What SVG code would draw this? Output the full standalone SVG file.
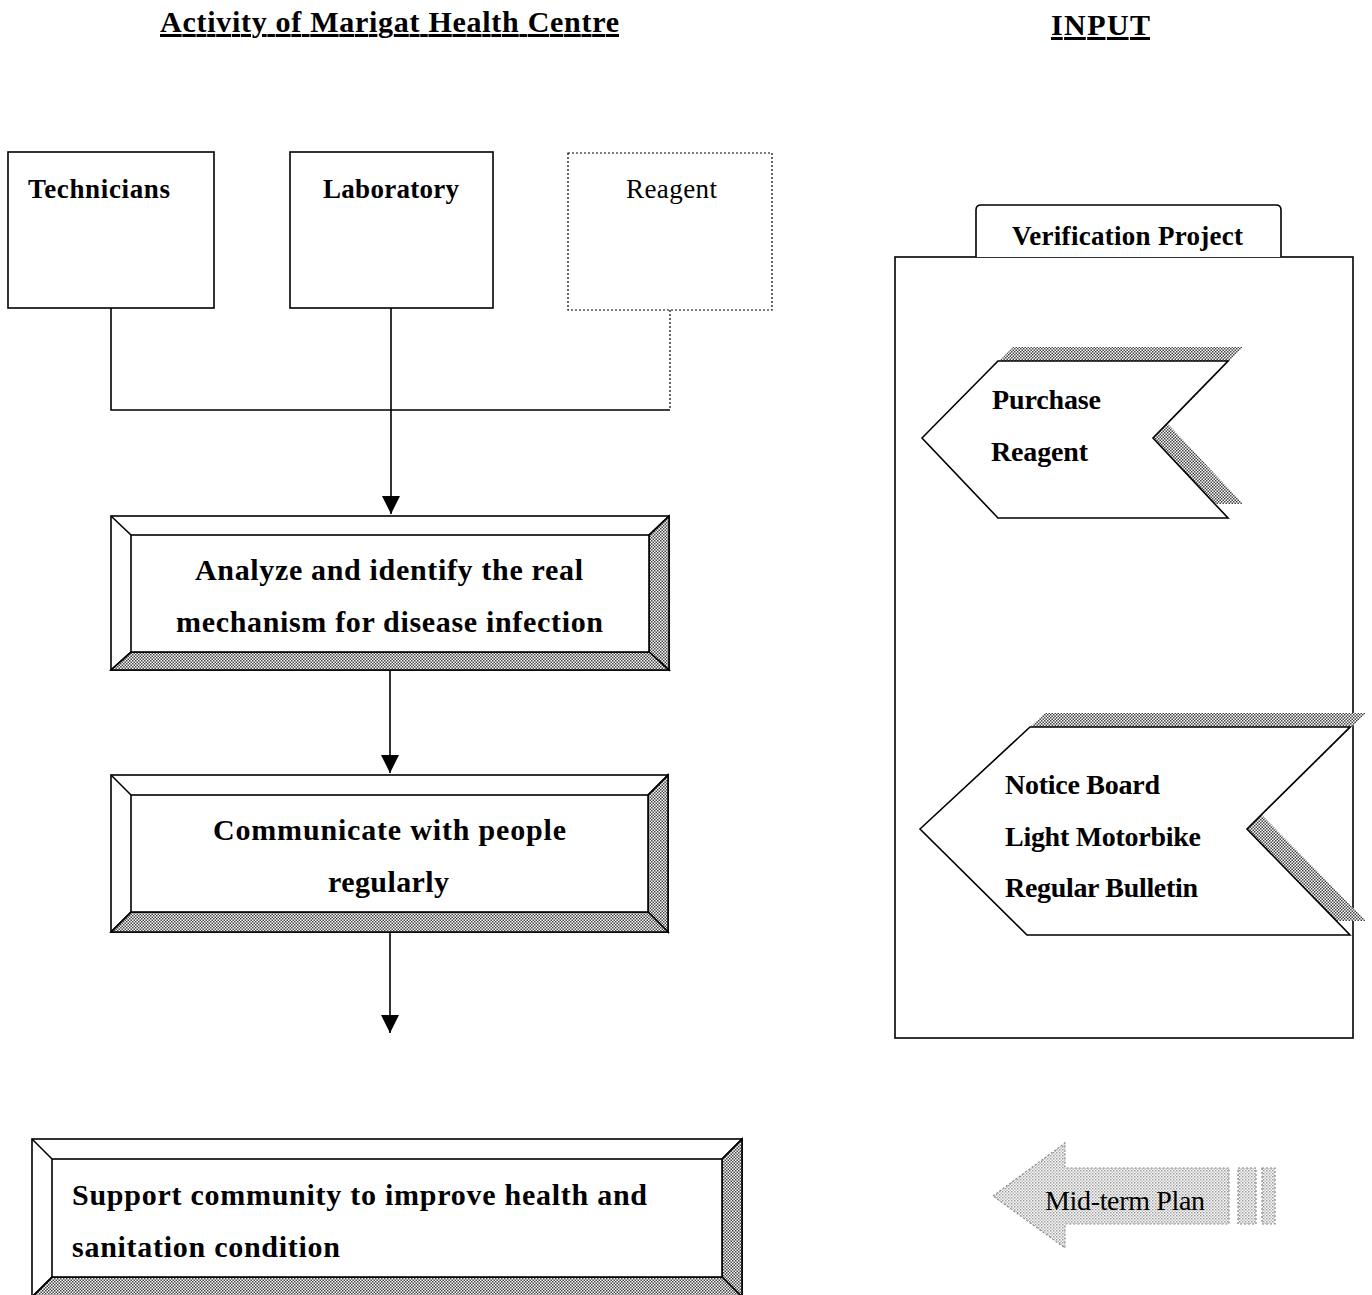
<svg xmlns="http://www.w3.org/2000/svg" width="1372" height="1295" viewBox="0 0 1372 1295">
<style>
text{font-family:"Liberation Serif","Times New Roman",serif;fill:#000}
.b{font-weight:bold}
.t{font-size:30px;font-weight:bold;text-decoration:underline}
.lbl{font-size:27px}
.big{font-size:30px;font-weight:bold}
.mid{font-size:28px;font-weight:bold}
.ln{fill:none;stroke:#000;stroke-width:1.6}
.box{fill:#fff;stroke:#000;stroke-width:1.6}
.dot{fill:#fff;stroke:#000;stroke-width:1.2;stroke-dasharray:2 2}
.hat{fill:url(#hatch);stroke:#000;stroke-width:1.6}
.sh{fill:url(#hatch);stroke:none}
.lt{fill:url(#light);stroke:#888;stroke-width:1.2;stroke-dasharray:2 2}
</style>
<defs>
<pattern id="hatch" width="3" height="3" patternUnits="userSpaceOnUse">
<rect width="3" height="3" fill="#fff"/>
<rect x="0" y="0" width="1.5" height="1.5" fill="#444"/>
<rect x="1.5" y="1.5" width="1.5" height="1.5" fill="#444"/>
</pattern>
<pattern id="light" width="3" height="3" patternUnits="userSpaceOnUse">
<rect width="3" height="3" fill="#fff"/>
<rect x="0" y="0" width="1.5" height="1.5" fill="#999"/>
<rect x="1.5" y="1.5" width="1.5" height="1.5" fill="#bbb"/>
</pattern>
<marker id="arr" markerWidth="20" markerHeight="20" refX="18" refY="9" orient="auto" markerUnits="userSpaceOnUse">
<path d="M0,0 L18,9 L0,18 Z" fill="#000"/>
</marker>
</defs>
<rect width="1372" height="1295" fill="#fff"/>

<text class="t" x="160" y="32" textLength="459">Activity of Marigat Health Centre</text>
<text class="t" x="1051" y="35" textLength="99">INPUT</text>

<g id="connectors">
<polyline class="ln" points="111,308 111,410 670,410"/>
<line x1="670" y1="310" x2="670" y2="410" stroke="#000" stroke-width="1.2" stroke-dasharray="2 2"/>
<line class="ln" x1="391" y1="308" x2="391" y2="514" marker-end="url(#arr)"/>
<line class="ln" x1="390" y1="670" x2="390" y2="773" marker-end="url(#arr)"/>
<line class="ln" x1="390" y1="932" x2="390" y2="1033" marker-end="url(#arr)"/>
</g>

<g id="technicians">
<rect class="box" x="8" y="152" width="206" height="156"/>
<text class="lbl b" x="28" y="198" textLength="142">Technicians</text>
</g>
<g id="laboratory">
<rect class="box" x="290" y="152" width="203" height="156"/>
<text class="lbl b" x="323" y="198" textLength="136">Laboratory</text>
</g>
<g id="reagent">
<rect class="dot" x="568" y="153" width="204" height="157"/>
<text class="lbl" x="626" y="198" textLength="91">Reagent</text>
</g>

<g id="analyze">
<rect class="box" x="111" y="516" width="558" height="154"/>
<polygon class="hat" points="669,516 669,670 649,652 649,535"/>
<polygon class="hat" points="111,670 669,670 649,652 131,652"/>
<line class="ln" x1="111" y1="516" x2="131" y2="535"/>
<line class="ln" x1="669" y1="516" x2="649" y2="535"/>
<line class="ln" x1="111" y1="670" x2="131" y2="652"/>
<rect class="box" x="131" y="535" width="518" height="117"/>
<text class="big" x="195" y="580" textLength="388">Analyze and identify the real</text>
<text class="big" x="176" y="632" textLength="427">mechanism for disease infection</text>
</g>

<g id="communicate">
<rect class="box" x="111" y="775" width="557" height="157"/>
<polygon class="hat" points="668,775 668,932 648,912 648,795"/>
<polygon class="hat" points="111,932 668,932 648,912 131,912"/>
<line class="ln" x1="111" y1="775" x2="131" y2="795"/>
<line class="ln" x1="668" y1="775" x2="648" y2="795"/>
<line class="ln" x1="111" y1="932" x2="131" y2="912"/>
<rect class="box" x="131" y="795" width="517" height="117"/>
<text class="big" x="213" y="840" textLength="353">Communicate with people</text>
<text class="big" x="328" y="892" textLength="121">regularly</text>
</g>

<g id="support">
<rect class="box" x="32" y="1139" width="710" height="158"/>
<polygon class="hat" points="742,1139 742,1297 722,1277 722,1159"/>
<polygon class="hat" points="32,1297 742,1297 722,1277 52,1277"/>
<line class="ln" x1="32" y1="1139" x2="52" y2="1159"/>
<line class="ln" x1="742" y1="1139" x2="722" y2="1159"/>
<line class="ln" x1="32" y1="1297" x2="52" y2="1277"/>
<rect class="box" x="52" y="1159" width="670" height="118"/>
<text class="big" x="72" y="1205" textLength="575">Support community to improve health and</text>
<text class="big" x="72" y="1257" textLength="268">sanitation condition</text>
</g>

<g id="verification-project">
<rect class="box" x="895" y="257" width="458" height="781"/>
<path class="box" d="M976,257 L976,210 Q976,205 981,205 L1276,205 Q1281,205 1281,210 L1281,257"/>
<text class="lbl b" x="1012" y="245" textLength="231">Verification Project</text>
</g>

<g id="purchase-reagent">
<polygon class="sh" points="937,424 1013,347 1243,347 1168,424 1243,504 1013,504"/>
<polygon class="box" points="922,438 998,361 1228,361 1153,438 1228,518 998,518"/>
<text class="mid" x="992" y="409" textLength="109">Purchase</text>
<text class="mid" x="991" y="461" textLength="97">Reagent</text>
</g>

<g id="notice-board">
<polygon class="sh" points="935,815 1045,713 1366,713 1262,815 1366,921 1042,921"/>
<polygon class="box" points="920,829 1030,727 1350,727 1247,829 1350,935 1027,935"/>
<text class="mid" x="1005" y="794" textLength="155">Notice Board</text>
<text class="mid" x="1005" y="846" textLength="196">Light Motorbike</text>
<text class="mid" x="1005" y="897" textLength="193">Regular Bulletin</text>
</g>

<g id="mid-term-plan">
<polygon class="lt" points="993,1196 1065,1143 1065,1168 1229,1168 1229,1224 1065,1224 1065,1248"/>
<rect class="lt" x="1238" y="1168" width="18" height="56"/>
<rect class="lt" x="1262" y="1168" width="13" height="56"/>
<text x="1045" y="1210" textLength="160" style="font-size:28px">Mid-term Plan</text>
</g>
</svg>
